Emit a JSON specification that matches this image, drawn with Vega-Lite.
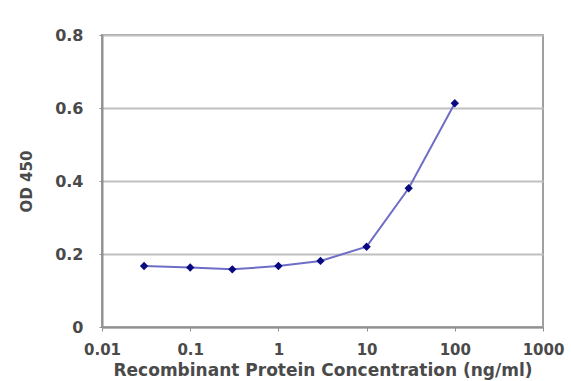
{
  "$schema": "https://vega.github.io/schema/vega-lite/v6.json",
  "width": 441,
  "height": 292,
  "autosize": "none",
  "padding": {"left": 102, "top": 35, "right": 28, "bottom": 54},
  "background": "white",
  "config": {
    "view": {"stroke": "#a0a0a0", "strokeWidth": 2},
    "font": "DejaVu Sans",
    "axis": {
      "labelFont": "DejaVu Sans",
      "labelFontWeight": "bold",
      "labelFontSize": 16,
      "labelColor": "#4a4a4a",
      "titleFont": "DejaVu Sans",
      "titleFontWeight": "bold",
      "titleFontSize": 17,
      "titleColor": "#4a4a4a",
      "domainColor": "#909090",
      "domainWidth": 2,
      "tickColor": "#909090",
      "gridColor": "#c0c0c0",
      "gridWidth": 2
    }
  },
  "data": {
    "values": [
      {"conc": 0.03, "od": 0.167},
      {"conc": 0.1, "od": 0.163},
      {"conc": 0.3, "od": 0.158},
      {"conc": 1, "od": 0.167},
      {"conc": 3, "od": 0.181},
      {"conc": 10, "od": 0.22},
      {"conc": 30, "od": 0.38},
      {"conc": 100, "od": 0.613}
    ]
  },
  "encoding": {
    "x": {
      "field": "conc",
      "type": "quantitative",
      "scale": {"type": "log", "domain": [0.01, 1000], "nice": false},
      "axis": {
        "title": "Recombinant Protein Concentration (ng/ml)",
        "values": [0.01, 0.1, 1, 10, 100, 1000],
        "labelExpr": "datum.value < 0.05 ? '0.01' : datum.value < 0.5 ? '0.1' : format(datum.value, 'd')",
        "grid": false,
        "tickSize": 4,
        "labelPadding": 11,
        "labelFontSize": 15,
        "titlePadding": 5,
        "labelFlush": false
      }
    },
    "y": {
      "field": "od",
      "type": "quantitative",
      "scale": {"domain": [0, 0.8], "nice": false},
      "axis": {
        "title": "OD 450",
        "values": [0, 0.2, 0.4, 0.6, 0.8],
        "labelExpr": "datum.value == 0 ? '0' : format(datum.value, '.1f')",
        "grid": true,
        "tickSize": 3,
        "labelPadding": 16,
        "titleX": -76,
        "titleY": 146,
        "titleAngle": -90,
        "titleAlign": "center",
        "titleBaseline": "middle",
        "titleFontSize": 15,
        "titleFontWeight": "bold"
      }
    }
  },
  "layer": [
    {"mark": {"type": "line", "color": "#6e6ec6", "strokeWidth": 2}},
    {"mark": {"type": "point", "shape": "diamond", "filled": true, "color": "#0a0a80", "size": 70, "opacity": 1}}
  ]
}
